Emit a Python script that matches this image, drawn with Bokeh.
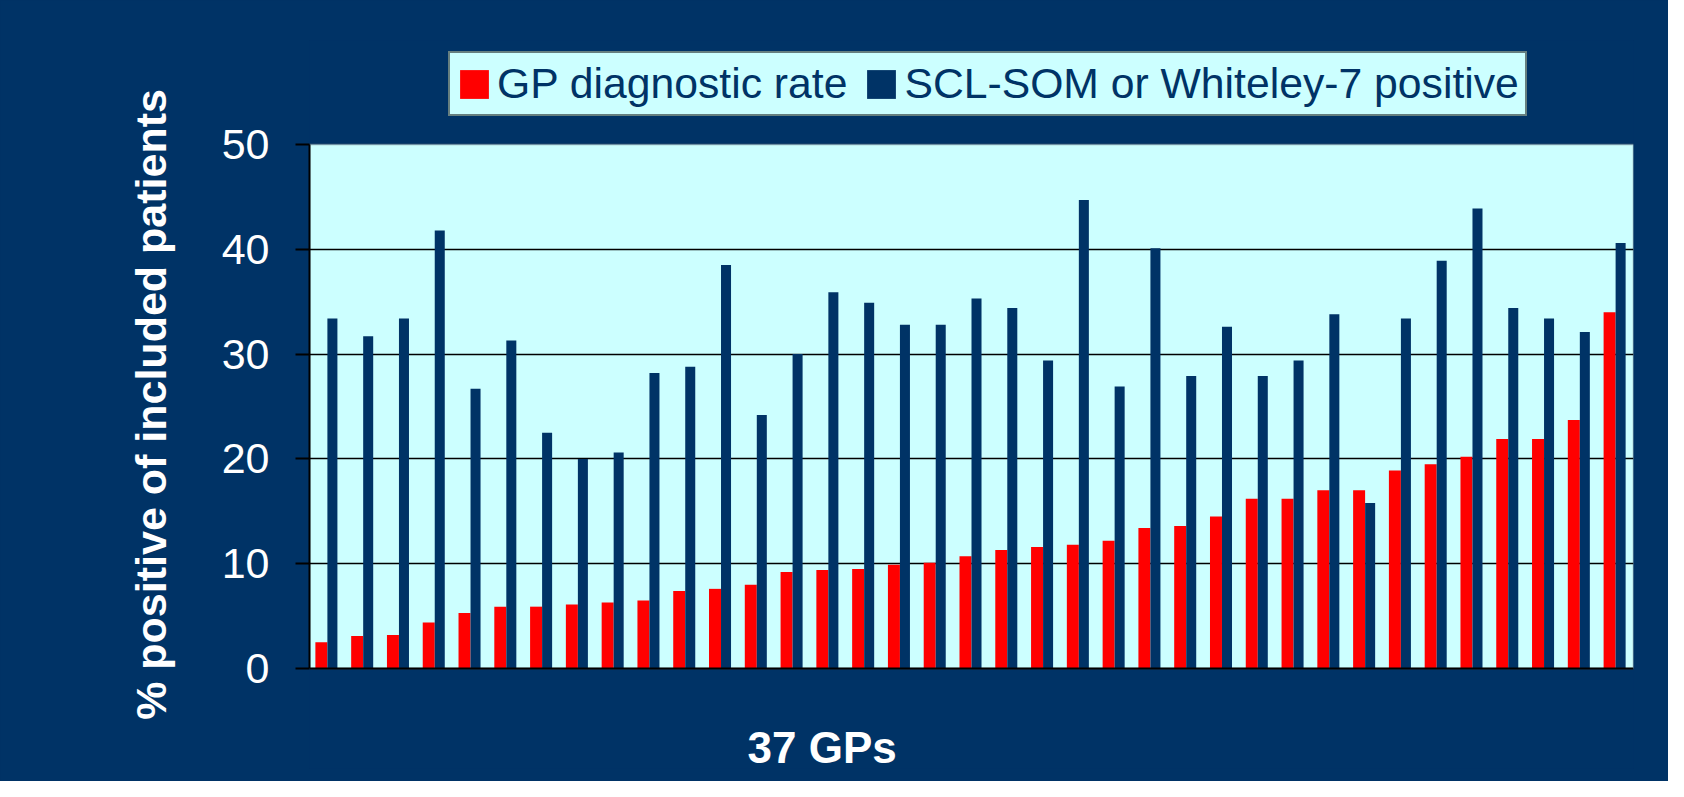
from bokeh.plotting import figure
from bokeh.models import (ColumnDataSource, Range1d, FixedTicker, Legend, LegendItem,
                          BoxAnnotation, Label)
from bokeh.transform import dodge
from bokeh.embed import file_html
from bokeh.resources import INLINE

# ---- data ----
gp = list(range(1, 38))
gp_rate = [2.5, 3.1, 3.2, 4.4, 5.3, 5.9, 5.9, 6.1, 6.3, 6.5, 7.4, 7.6, 8.0, 9.2, 9.4, 9.5,
           9.9, 10.1, 10.7, 11.3, 11.6, 11.8, 12.2, 13.4, 13.6, 14.5, 16.2, 16.2, 17.0, 17.0,
           18.9, 19.5, 20.2, 21.9, 21.9, 23.7, 34.0]
scl_whiteley = [33.4, 31.7, 33.4, 41.8, 26.7, 31.3, 22.5, 20.0, 20.6, 28.2, 28.8, 38.5, 24.2,
                30.0, 35.9, 34.9, 32.8, 32.8, 35.3, 34.4, 29.4, 44.7, 26.9, 40.1, 27.9, 32.6,
                27.9, 29.4, 33.8, 15.8, 33.4, 38.9, 43.9, 34.4, 33.4, 32.1, 40.6]
y_ticks = [0, 10, 20, 30, 40, 50]
series_labels = ["GP diagnostic rate", "SCL-SOM or Whiteley-7 positive"]
x_title = "37 GPs"
y_title = "% positive of included patients"

NAVY = "#003366"
RED = "#FF0000"
CYAN = "#CCFFFF"
FONT = "Liberation Sans"

src = ColumnDataSource(dict(gp=gp, rate=gp_rate, scl=scl_whiteley))

# layout (pixels in the figure): value area 144..668, frame 40..768
y_max = max(y_ticks)
px_per_unit = (668 - 144) / y_max
y_top = y_max + (144 - 40) / px_per_unit
y_bottom = -(768 - 668) / px_per_unit

p = figure(width=1668, height=781,
           x_range=Range1d(0.5, 37.5), y_range=Range1d(y_bottom, y_top),
           output_backend="svg", toolbar_location=None,
           min_border_left=309, min_border_right=35, min_border_top=40, min_border_bottom=13,
           background_fill_color=NAVY, border_fill_color=NAVY)
p.outline_line_color = None
p.styles = {"background-color": NAVY}

# light cyan plotting area with grey top/right edges
p.add_layout(BoxAnnotation(bottom=0, top=y_max, fill_color=CYAN, fill_alpha=1.0,
                           line_color="#808080", line_width=2, level="image"))

r_red = p.vbar(x=dodge("gp", -0.168, range=p.x_range), top="rate", width=0.335, bottom=0,
               source=src, fill_color=RED, line_color=None)
r_navy = p.vbar(x=dodge("gp", 0.14, range=p.x_range), top="scl", width=0.28, bottom=0,
                source=src, fill_color=NAVY, line_color=None)

# grid
p.xgrid.grid_line_color = None
p.ygrid.grid_line_color = "black"
p.ygrid.grid_line_width = 1.5
p.ygrid.ticker = FixedTicker(ticks=y_ticks[1:-1])
p.ygrid.level = "underlay"

# y axis
p.yaxis.ticker = FixedTicker(ticks=y_ticks)
p.yaxis.bounds = (0, y_max)
p.yaxis.axis_line_color = "black"
p.yaxis.axis_line_width = 2
p.yaxis.major_tick_line_color = "black"
p.yaxis.major_tick_line_width = 2
p.yaxis.major_tick_out = 14
p.yaxis.major_tick_in = 0
p.yaxis.minor_tick_line_color = None
p.yaxis.major_label_text_color = "white"
p.yaxis.major_label_text_font = FONT
p.yaxis.major_label_text_font_size = "43px"
p.yaxis.major_label_standoff = 26
p.yaxis.axis_label = y_title
p.yaxis.axis_label_text_color = "white"
p.yaxis.axis_label_text_font = FONT
p.yaxis.axis_label_text_font_style = "bold"
p.yaxis.axis_label_text_font_size = "43px"
p.yaxis.axis_label_standoff = 44

# x axis: a plain black base line at 0
p.xaxis.fixed_location = 0
p.xaxis.ticker = FixedTicker(ticks=[])
p.xaxis.axis_line_color = "black"
p.xaxis.axis_line_width = 2
p.xaxis.major_tick_line_color = None
p.xaxis.minor_tick_line_color = None
p.xaxis.major_label_text_color = None

# x title, left of centre as in the reference
p.add_layout(Label(x=12.74, y=-(747 - 668) / px_per_unit, text=x_title, text_align="left",
                   text_baseline="middle", text_color="white", text_font=FONT,
                   text_font_style="bold", text_font_size="44px"))

legend = Legend(items=[LegendItem(label=series_labels[0], renderers=[r_red]),
                       LegendItem(label=series_labels[1], renderers=[r_navy])],
                orientation="horizontal", location=(139, 768 - 116),
                background_fill_color=CYAN, background_fill_alpha=1.0,
                border_line_color="black", border_line_width=2,
                label_text_color=NAVY, label_text_font=FONT, label_text_font_size="42.7px",
                glyph_width=36, glyph_height=36, label_standoff=5, spacing=16,
                padding=6, margin=0)
p.add_layout(legend, "center")

open("out.html", "w").write(file_html(p, INLINE))
